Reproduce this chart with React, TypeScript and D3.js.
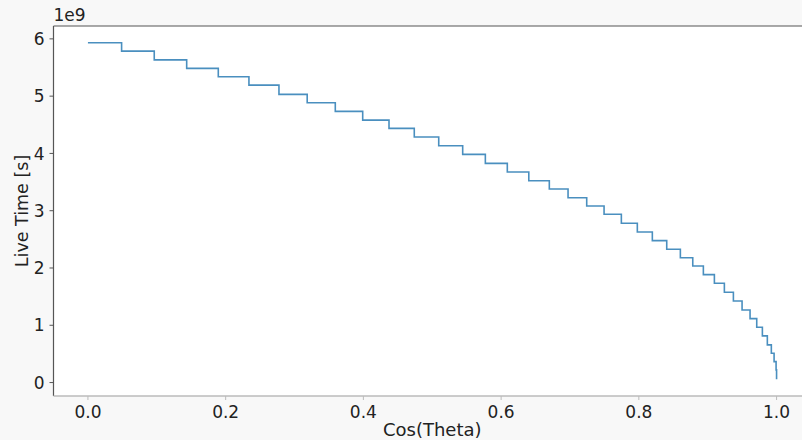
import React from "react";
import * as d3 from "d3";

const cosTheta = [
  0.0, 0.0489, 0.0963, 0.1434, 0.1893, 0.2338, 0.2774, 0.3184, 0.3592, 0.399,
  0.4372, 0.4739, 0.5094, 0.5442, 0.5771, 0.609, 0.6402, 0.67, 0.6972, 0.7243,
  0.7495, 0.7746, 0.7978, 0.8196, 0.8405, 0.8603, 0.8783, 0.8937, 0.9097, 0.9242,
  0.9373, 0.9499, 0.9615, 0.9712, 0.9794, 0.9866, 0.9924, 0.9964, 0.9993, 1.0,
];
const liveTime = [
  5.931, 5.786, 5.634, 5.484, 5.338, 5.193, 5.031, 4.884, 4.734, 4.582,
  4.437, 4.286, 4.134, 3.984, 3.827, 3.675, 3.523, 3.378, 3.227, 3.082,
  2.937, 2.78, 2.629, 2.477, 2.327, 2.179, 2.036, 1.884, 1.734, 1.577,
  1.425, 1.268, 1.116, 0.966, 0.815, 0.658, 0.513, 0.366, 0.222, 0.059,
].map((v) => v * 1e9);

const xTicks = [0, 0.2, 0.4, 0.6, 0.8, 1.0];
const yTicks = [0, 1, 2, 3, 4, 5, 6];

const W = 802;
const H = 440;
const left = 53.5;
const right = 811;
const top = 26;
const bottom = 396;

export default function App() {
  const x = d3.scaleLinear().domain([-0.05, 1.05]).range([left, right]);
  const yMin = d3.min(liveTime)!;
  const yMax = d3.max(liveTime)!;
  const pad = (yMax - yMin) * 0.05;
  const y = d3.scaleLinear().domain([yMin - pad, yMax + pad]).range([bottom, top]);
  const line = d3
    .line<number>()
    .x((_, i) => x(cosTheta[i]))
    .y((d) => y(d))
    .curve(d3.curveStepAfter);
  const font = "'DejaVu Sans', sans-serif";
  return (
    <svg
      width={W}
      height={H}
      style={{ position: "absolute", left: 0, top: 0, background: "#f8f8f8" }}
      fontFamily={font}
    >
      <rect x={left} y={top} width={right - left} height={bottom - top} fill="#ffffff" />
      <path d={line(liveTime) ?? ""} fill="none" stroke="#4a8fbf" strokeWidth={1.6} />
      {/* spines */}
      <line x1={left} x2={left} y1={top} y2={bottom} stroke="#555" strokeWidth={1.2} />
      <line x1={left} x2={right} y1={top} y2={top} stroke="#555" strokeWidth={1.2} />
      <line x1={left} x2={right} y1={bottom} y2={bottom} stroke="#bbb" strokeWidth={1.6} />
      {/* y ticks */}
      {yTicks.map((t) => (
        <g key={"y" + t}>
          <line x1={left - 4} x2={left} y1={y(t * 1e9)} y2={y(t * 1e9)} stroke="#555" strokeWidth={1} />
          <text x={left - 9} y={y(t * 1e9)} dy="0.36em" textAnchor="end" fontSize={17} fill="#222">
            {t}
          </text>
        </g>
      ))}
      {/* x ticks */}
      {xTicks.map((t) => (
        <g key={"x" + t}>
          <line x1={x(t)} x2={x(t)} y1={bottom} y2={bottom + 4} stroke="#bbb" strokeWidth={1} />
          <text x={x(t)} y={bottom + 22} textAnchor="middle" fontSize={17} fill="#222">
            {t.toFixed(1)}
          </text>
        </g>
      ))}
      <text x={left} y={top - 5} fontSize={17} fill="#222">
        1e9
      </text>
      <text x={(left + 811) / 2} y={436} textAnchor="middle" fontSize={18} fill="#222">
        Cos(Theta)
      </text>
      <text
        transform={`translate(28, ${(top + bottom) / 2}) rotate(-90)`}
        textAnchor="middle"
        fontSize={17.5}
        fill="#222"
      >
        Live Time [s]
      </text>
    </svg>
  );
}
